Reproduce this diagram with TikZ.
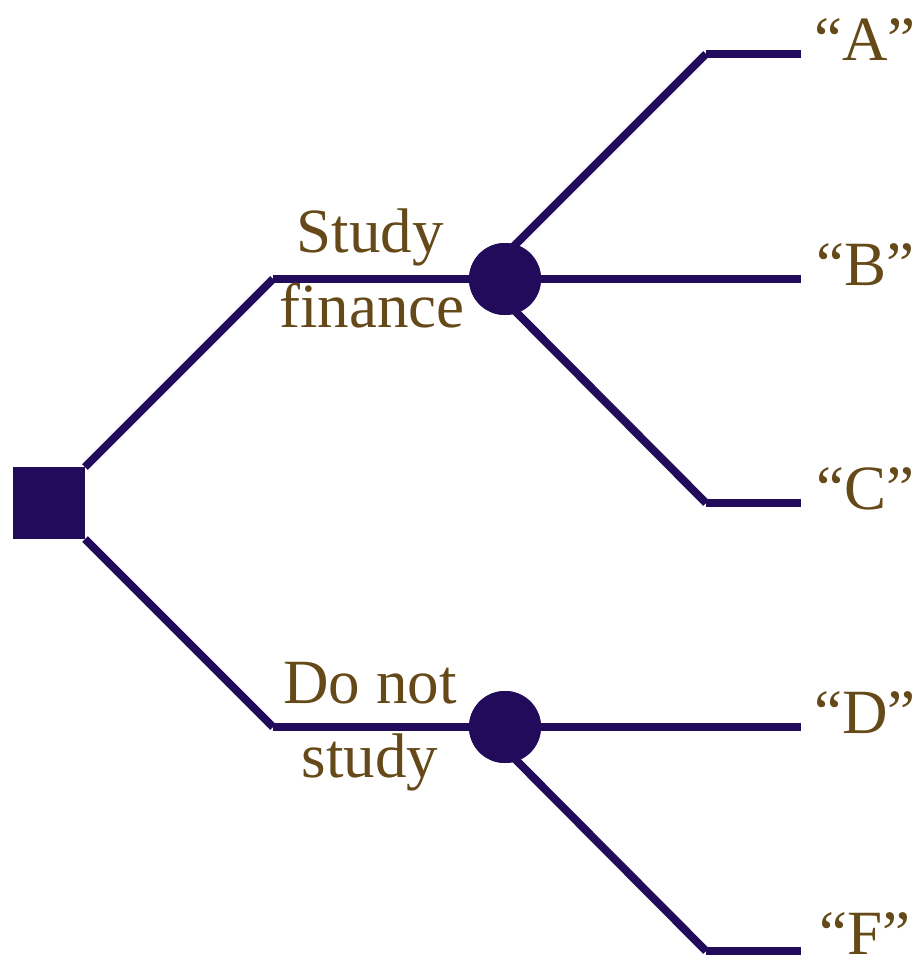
\documentclass[tikz,border=0pt]{standalone}
\usepackage{fontspec}
\setmainfont{Liberation Serif}
\definecolor{ln}{HTML}{230B5C}
\definecolor{tx}{HTML}{654919}
\begin{document}
\begin{tikzpicture}[x=1pt,y=-1pt,
  branch/.style={draw=ln,line width=8pt,line cap=butt},
  lbl/.style={text=tx,font=\fontsize{63}{70}\selectfont,inner sep=0pt,anchor=base},
  chance/.style={circle,fill=ln,minimum size=72pt,inner sep=0pt},
  decision/.style={rectangle,fill=ln,minimum size=72pt,inner sep=0pt}]
\useasboundingbox (0,0) rectangle (922,966);
% junction coordinates
\coordinate (u1) at (85,467);
\coordinate (u2) at (273,279);
\coordinate (l1) at (85,539);
\coordinate (l2) at (273,727);
\coordinate (ua) at (512,248);
\coordinate (a1) at (706,54);
\coordinate (a2) at (801,54);
\coordinate (b2) at (801,279);
\coordinate (uc) at (512,308);
\coordinate (c1) at (706,503);
\coordinate (c2) at (801,503);
\coordinate (d2) at (801,727);
\coordinate (lf) at (512,756);
\coordinate (f1) at (706,951);
\coordinate (f2) at (801,951);
% nodes
\node[decision] (dec) at (49,503) {};
\node[chance] (ch1) at (505,279) {};
\node[chance] (ch2) at (505,727) {};
% lines
\draw[branch] (u1) -- (u2);
\draw[branch] (u2) -- (ch1.center);
\draw[branch] (l1) -- (l2);
\draw[branch] (l2) -- (ch2.center);
\draw[branch] (ua) -- (a1);
\draw[branch] (a1) -- (a2);
\draw[branch] (ch1.center) -- (b2);
\draw[branch] (uc) -- (c1);
\draw[branch] (c1) -- (c2);
\draw[branch] (ch2.center) -- (d2);
\draw[branch] (lf) -- (f1);
\draw[branch] (f1) -- (f2);
% redraw chance nodes on top of the lines
\node[chance] (ch1b) at (ch1) {};
\node[chance] (ch2b) at (ch2) {};
% labels
\node[lbl] (s1) at (370,252) {Study};
\node[lbl] (s2) at (372,327) {finance};
\node[lbl] (n1) at (370,703) {Do not};
\node[lbl] (n2) at (370,777) {study};
\node[lbl] (la) at (865,60) {“A”};
\node[lbl] (lb) at (865,285) {“B”};
\node[lbl] (lc) at (865,509) {“C”};
\node[lbl] (ld) at (865,733) {“D”};
\node[lbl] (lff) at (865,954) {“F”};
\end{tikzpicture}
\end{document}
